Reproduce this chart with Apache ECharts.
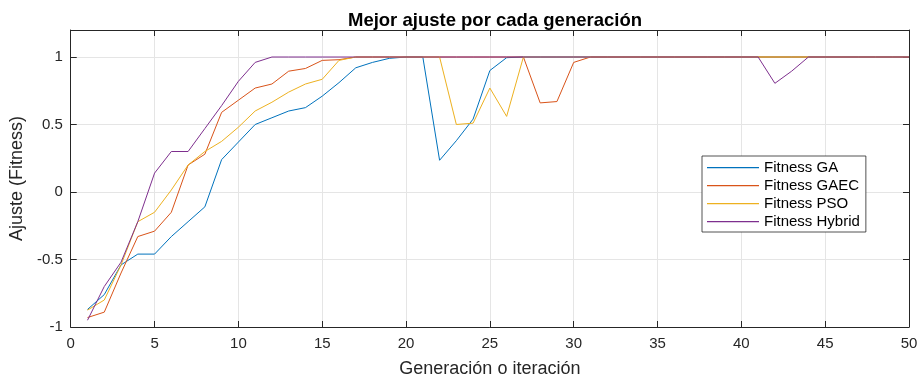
<!DOCTYPE html>
<html>
<head>
<meta charset="utf-8">
<script src="https://cdn.jsdelivr.net/npm/echarts@6/dist/echarts.min.js"></script>
<style>
  html, body { margin: 0; padding: 0; background: #fff; }
  #chart { width: 922px; height: 383px; }
</style>
</head>
<body>
<div id="chart"></div>
<script>
// Best fitness per generation for four optimisers
const generations = [
  1, 2, 3, 4, 5, 6, 7, 8, 9, 10,
  11, 12, 13, 14, 15, 16, 17, 18, 19, 20,
  21, 22, 23, 24, 25, 26, 27, 28, 29, 30,
  31, 32, 33, 34, 35, 36, 37, 38, 39, 40,
  41, 42, 43, 44, 45, 46, 47, 48, 49, 50
];
const fitnessGA = [
  -0.87, -0.76, -0.54, -0.46, -0.46, -0.33, -0.22, -0.11, 0.24, 0.37,
  0.50, 0.55, 0.60, 0.625, 0.71, 0.81, 0.92, 0.96, 0.99, 1,
  1, 0.235, 0.38, 0.54, 0.90, 0.995, 1, 1, 1, 1,
  1, 1, 1, 1, 1, 1, 1, 1, 1, 1,
  1, 1, 1, 1, 1, 1, 1, 1, 1, 1
];
const fitnessGAEC = [
  -0.93, -0.89, -0.60, -0.33, -0.29, -0.15, 0.20, 0.28, 0.59, 0.68,
  0.77, 0.80, 0.895, 0.915, 0.975, 0.98, 1, 1, 1, 1,
  1, 1, 1, 1, 1, 1, 1, 0.66, 0.67, 0.96,
  1, 1, 1, 1, 1, 1, 1, 1, 1, 1,
  1, 1, 1, 1, 1, 1, 1, 1, 1, 1
];
const fitnessPSO = [
  -0.875, -0.80, -0.54, -0.22, -0.15, 0.015, 0.20, 0.30, 0.375, 0.48,
  0.60, 0.665, 0.74, 0.80, 0.835, 0.975, 1, 1, 1, 1,
  1, 1, 0.50, 0.51, 0.77, 0.56, 1, 1, 1, 1,
  1, 1, 1, 1, 1, 1, 1, 1, 1, 1,
  1, 1, 1, 1, 1, 1, 1, 1, 1, 1
];
const fitnessHybrid = [
  -0.95, -0.70, -0.52, -0.22, 0.14, 0.30, 0.30, 0.47, 0.64, 0.82,
  0.96, 1, 1, 1, 1, 1, 1, 1, 1, 1,
  1, 1, 1, 1, 1, 1, 1, 1, 1, 1,
  1, 1, 1, 1, 1, 1, 1, 1, 1, 1,
  1, 0.805, 0.895, 1, 1, 1, 1, 1, 1, 1
];
const seriesNames = ['Fitness GA', 'Fitness GAEC', 'Fitness PSO', 'Fitness Hybrid'];
const seriesColors = ['#0072BD', '#D95319', '#EDB120', '#7E2F8E'];
const seriesValues = [fitnessGA, fitnessGAEC, fitnessPSO, fitnessHybrid];

const FONT = '"Liberation Sans", Arial, sans-serif';
const INK = '#262626';

const chart = echarts.init(document.getElementById('chart'), null, { renderer: 'canvas' });

// Unlabelled top/right axes close the plot box and carry inward ticks
const boxAxis = {
  axisLine: { show: true, onZero: false, lineStyle: { color: INK, width: 1 } },
  axisTick: { show: true, inside: true, length: 6, lineStyle: { color: INK, width: 1 } },
  axisLabel: { show: false },
  splitLine: { show: false }
};

// Legend swatch: a thin horizontal bar; the hairline corners keep the
// path's bounding box at the full item size so the bar stays 1px tall.
const LINE_ICON = 'path://M0,0H0.01V0.01H0Z M51.99,14.99H52V15H51.99Z M0,7H52V8.2H0Z';

chart.setOption({
  animation: false,
  backgroundColor: '#ffffff',
  title: {
    text: 'Mejor ajuste por cada generación',
    left: 490,
    textAlign: 'center',
    top: 6,
    textStyle: { fontFamily: FONT, fontSize: 18.5, fontWeight: 'bold', color: '#000' }
  },
  legend: {
    orient: 'vertical',
    left: 702,
    top: 156,
    padding: [4, 6, 3, 5],
    itemGap: 3,
    itemWidth: 52,
    itemHeight: 15,
    backgroundColor: '#ffffff',
    borderColor: INK,
    borderWidth: 0.8,
    textStyle: { fontFamily: FONT, fontSize: 15, color: '#000' },
    data: seriesNames.map((name, i) => ({
      name: name,
      icon: LINE_ICON,
      itemStyle: { color: seriesColors[i], borderWidth: 0 }
    }))
  },
  grid: { left: 69, right: 13, top: 30, bottom: 54, containLabel: false },
  xAxis: [
    {
      type: 'value', min: 0, max: 50, interval: 5,
      name: 'Generación o iteración', nameLocation: 'middle', nameGap: 33,
      nameTextStyle: { fontFamily: FONT, fontSize: 18, color: INK },
      axisLine: { show: true, onZero: false, lineStyle: { color: INK, width: 1 } },
      axisTick: { show: true, inside: true, length: 6, lineStyle: { color: INK } },
      axisLabel: { fontFamily: FONT, fontSize: 15, color: INK, margin: 9 },
      splitLine: { show: true, lineStyle: { color: '#e5e5e5', width: 1 } }
    },
    Object.assign({ type: 'value', min: 0, max: 50, interval: 5, position: 'top' }, boxAxis)
  ],
  yAxis: [
    {
      type: 'value', min: -1, max: 1.2, interval: 0.5,
      name: 'Ajuste (Fitness)', nameLocation: 'middle', nameGap: 44,
      nameTextStyle: { fontFamily: FONT, fontSize: 18, color: INK },
      axisLine: { show: true, onZero: false, lineStyle: { color: INK, width: 1 } },
      axisTick: { show: true, inside: true, length: 6, lineStyle: { color: INK } },
      axisLabel: { fontFamily: FONT, fontSize: 15, color: INK, margin: 8, showMaxLabel: false },
      splitLine: { show: true, lineStyle: { color: '#e5e5e5', width: 1 } }
    },
    Object.assign({ type: 'value', min: -1, max: 1.2, interval: 0.5, position: 'right' }, boxAxis)
  ],
  series: seriesNames.map((name, i) => ({
    name: name,
    type: 'line',
    data: generations.map((g, k) => [g, seriesValues[i][k]]),
    showSymbol: false,
    symbol: 'none',
    color: seriesColors[i],
    lineStyle: { color: seriesColors[i], width: 1 },
    z: 2 + i
  }))
});
</script>
</body>
</html>
